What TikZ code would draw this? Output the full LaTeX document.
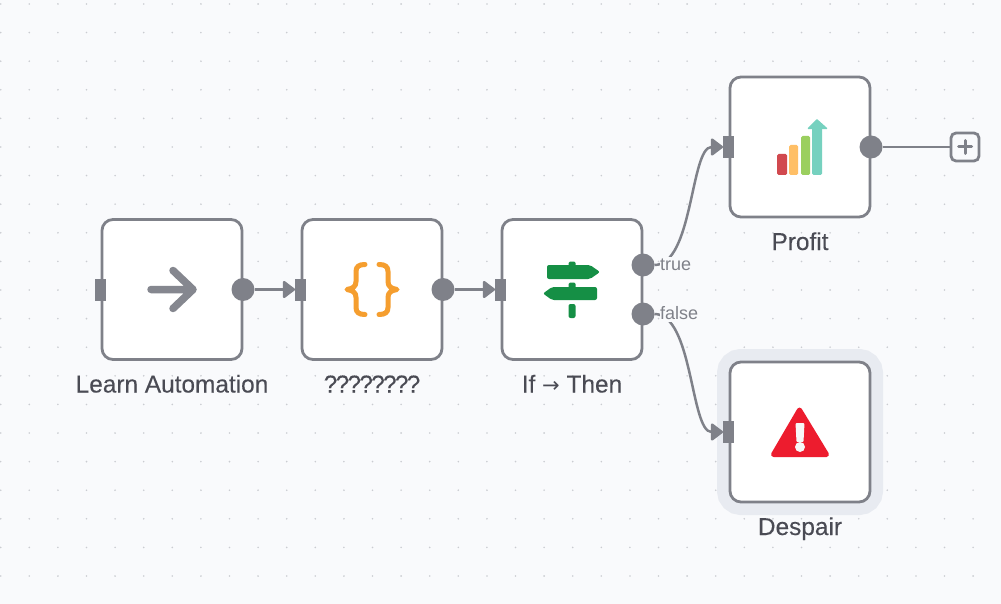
\documentclass[tikz,border=0pt]{standalone}
\usepackage{fontspec}
\setmainfont{Liberation Sans}
\newfontfamily\namefont[FakeBold=0.2]{Liberation Sans}
\newfontfamily\arrowfont{DejaVu Sans}
\usetikzlibrary{positioning, arrows.meta, calc}
\definecolor{canvas}{HTML}{F9FAFC}
\definecolor{griddot}{HTML}{CACCD1}
\definecolor{wire}{HTML}{7F8189}
\definecolor{captext}{HTML}{4A4B54}
\definecolor{halo}{HTML}{E8EBF1}

\begin{document}
\begin{tikzpicture}[x=1pt, y=-1pt, node distance=60pt]
                \tikzstyle{main} = [rectangle, draw=wire, fill=white, line width=2.8pt, rounded corners=11pt, minimum size=140pt, inner sep=0pt, outer sep=0pt]
                \tikzstyle{picked} = [preaction={draw=halo, line width=26pt}]
                \tikzstyle{inport} = [rectangle, fill=wire, minimum width=11pt, minimum height=22pt, inner sep=0pt, outer sep=0pt, xshift=-1.5pt]
                \tikzstyle{outport} = [circle, fill=wire, minimum size=23pt, inner sep=0pt, outer sep=0pt, xshift=1pt]
                \tikzstyle{boxname} = [text=captext, font=\namefont\fontsize{24.4}{27}\selectfont, text height=17pt, text depth=5.5pt, inner sep=0pt, outer sep=0pt]
                \tikzstyle{branch} = [text=wire, fill=canvas, font=\fontsize{18}{20}\selectfont, anchor=west, inner sep=0pt, text height=13pt, text depth=3pt, xshift=17pt]
                \tikzstyle{wired} = [draw=wire, line width=2.5pt, -{Triangle[length=13pt, width=19pt, round]}]

                % Canvas and its dots
                \useasboundingbox (0,0) rectangle (1001,604);
                \fill[canvas] (0,0) rectangle (1001,604);
                \foreach \col in {0,...,34}
                    \foreach \row in {0,...,20}
                        \fill[griddot] ({0.7+28.6*\col},{4+28.6*\row}) circle (0.9);

                % Boxes
                \node[main] (learn) at (172,289.5) {};
                \node[main] (code) [right=of learn] {};
                \node[main] (cond) [right=of code] {};
                \node[main] (profit) at (800,147) {};
                \node[main, picked] (despair) [below=145pt of profit] {};

                % Names under the boxes
                \node[boxname] (learnname) [below=16pt of learn] {Learn Automation};
                \node[boxname] (codename) [below=16pt of code] {\addfontfeature{LetterSpace=-7}????????};
                \node[boxname] (condname) [below=16pt of cond] {If {\arrowfont\fontsize{21}{24}\selectfont →} Then};
                \node[boxname] (profitname) [below=16pt of profit] {Profit};
                \node[boxname] (despairname) [below=16pt of despair] {Despair};

                % Ports
                \node[inport] (learnin) at (learn.west) {};
                \node[outport] (learnout) at (learn.east) {};
                \node[inport] (codein) at (code.west) {};
                \node[outport] (codeout) at (code.east) {};
                \node[inport] (condin) at (cond.west) {};
                \node[outport] (condtrue) at ($(cond.east)+(0,-24.5)$) {};
                \node[outport] (condfalse) at ($(cond.east)+(0,24.5)$) {};
                \node[inport] (profitin) at (profit.west) {};
                \node[outport] (profitout) at (profit.east) {};
                \node[inport] (despairin) at (despair.west) {};

                % Arrows
                \draw[wired] (learnout) -- (codein);
                \draw[wired] (codeout) -- (condin);
                \draw[wired] (condtrue) .. controls +(50,0) and +(-38,0) .. (profitin);
                \draw[wired] (condfalse) .. controls +(50,0) and +(-38,0) .. (despairin);
                \node[branch] (truename) at (condtrue) {true};
                \node[branch] (falsename) at (condfalse) {false};

                % Plus button
                \node[rectangle, draw=wire, fill=canvas, line width=2.8pt, rounded corners=5pt, minimum size=28pt] (plus) at (965,147) {};
                \draw[wire, line width=2.5pt] (profitout) -- (plus);
                \draw[wire, line width=3pt, line cap=round] ($(plus)+(-6.5,0)$) -- ($(plus)+(6.5,0)$);
                \draw[wire, line width=3pt, line cap=round] ($(plus)+(0,-6.5)$) -- ($(plus)+(0,6.5)$);

                % Arrow icon
                \begin{scope}[shift={(learn.center)}]
                    \draw[wire!95!white, line width=7.5pt, line cap=round, line join=round] (-21,0) -- (21,0) (1,-19) -- (21,0) -- (1,19);
                \end{scope}

                % Braces icon
                \definecolor{bracecol}{HTML}{F59E2F}
                \begin{scope}[shift={(code.center)}, bracecol, line width=5pt, line cap=round, line join=round]
                    \draw (-7,-25) .. controls (-13,-25) and (-16,-23) .. (-16,-18) -- (-16,-8) .. controls (-16,-3) and (-19,-1) .. (-25,0) .. controls (-19,1) and (-16,3) .. (-16,8) -- (-16,18) .. controls (-16,23) and (-13,25) .. (-7,25);
                    \draw (7,-25) .. controls (13,-25) and (16,-23) .. (16,-18) -- (16,-8) .. controls (16,-3) and (19,-1) .. (25,0) .. controls (19,1) and (16,3) .. (16,8) -- (16,18) .. controls (16,23) and (13,25) .. (7,25);
                \end{scope}

                % Signpost icon
                \definecolor{signcol}{HTML}{158F45}
                \begin{scope}[shift={(cond.center)}, signcol]
                    \fill[rounded corners=2pt] (-25,-24.5) -- (18,-24.5) -- (28,-17.5) -- (18,-10.5) -- (-25,-10.5) -- cycle;
                    \fill[rounded corners=2pt] (25,-2.5) -- (-20,-2.5) -- (-29,4) -- (-20,10.5) -- (25,10.5) -- cycle;
                    \fill[rounded corners=1.5pt] (-3.5,-28) rectangle (3.5,-20);
                    \fill[rounded corners=1.5pt] (-3.5,-7) rectangle (3.5,1);
                    \fill[rounded corners=2pt] (-3.5,14.5) rectangle (3.5,28.5);
                \end{scope}

                % Bars icon
                \definecolor{barred}{HTML}{D1494F}
                \definecolor{barorange}{HTML}{FFBF66}
                \definecolor{bargreen}{HTML}{9BCF5F}
                \definecolor{barteal}{HTML}{76D1BF}
                \begin{scope}[shift={(profit.center)}, rounded corners=1.5pt]
                    \fill[barred] (-23,7) rectangle (-13,28);
                    \fill[barorange] (-11,-2) rectangle (-2,28);
                    \fill[bargreen] (1,-11) rectangle (10,28);
                    \fill[barteal] (12,-20) rectangle (22,28);
                    \fill[barteal, sharp corners, draw=barteal, line width=1.5pt, line join=round] (8.5,-18.5) -- (17,-27) -- (26.5,-18.5) -- cycle;
                \end{scope}

                % Warning icon
                \definecolor{warnred}{HTML}{ED1C2E}
                \begin{scope}[shift={(despair.center)}]
                    \fill[warnred, draw=warnred, line width=5pt, line join=round] (-0.5,-22) -- (-26.5,22.5) -- (26.5,22.5) -- cycle;
                    \fill[white!97!black, rounded corners=1pt] (-4.5,-9) -- (4.5,-9) -- (3.5,10) -- (-3.5,10) -- cycle;
                    \fill[white!97!black] (0,15) circle (5);
                \end{scope}
            \end{tikzpicture}
\end{document}
